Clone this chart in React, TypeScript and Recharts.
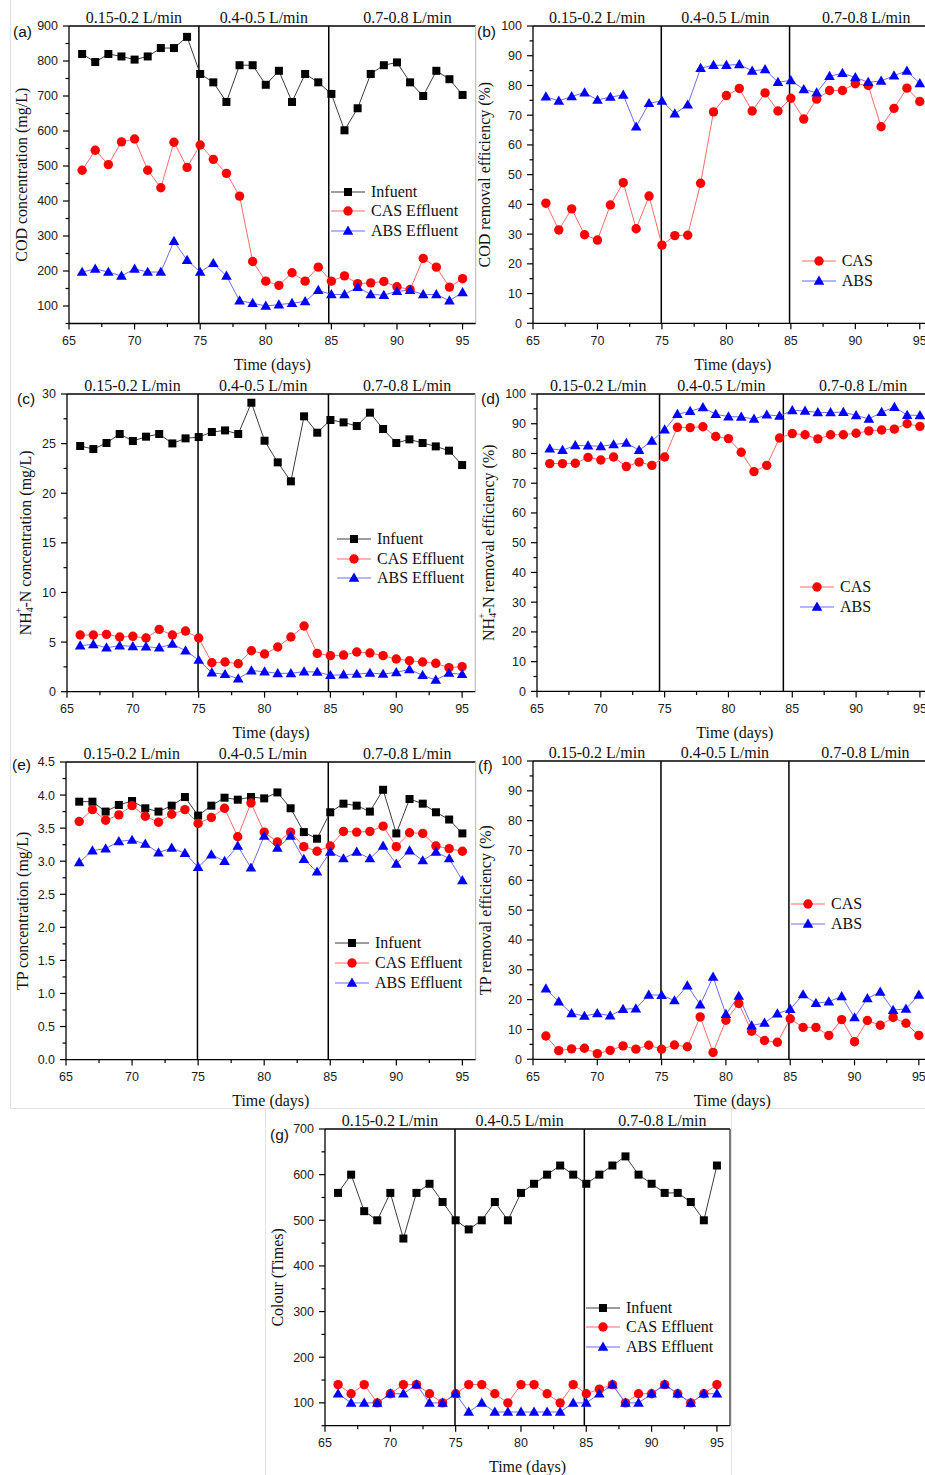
import React from 'react';
import { LineChart, Line, XAxis, YAxis, ReferenceLine, ReferenceArea, Legend } from 'recharts';

// days of operation
const days = [66, 67, 68, 69, 70, 71, 72, 73, 74, 75, 76, 77, 78, 79, 80, 81, 82, 83, 84, 85, 86, 87, 88, 89, 90, 91, 92, 93, 94, 95];

const phaseLabels = ['0.15-0.2 L/min', '0.4-0.5 L/min', '0.7-0.8 L/min'];
const xMajorTicks = [65, 70, 75, 80, 85, 90, 95];

// (a) COD concentration (mg/L)
const codInfluent = [820, 797, 820, 813, 804, 813, 837, 837, 869, 763, 739, 683, 788, 788, 732, 772, 683, 763, 739, 706, 602, 665, 763, 788, 796, 739, 700, 772, 748, 703];
const codCAS = [488, 545, 504, 569, 577, 488, 438, 568, 496, 560, 519, 479, 414, 227, 171, 159, 195, 171, 211, 171, 186, 164, 166, 170, 155, 147, 236, 211, 154, 178];
const codABS = [197, 206, 197, 186, 206, 197, 197, 285, 231, 197, 222, 186, 115, 108, 100, 104, 108, 113, 145, 133, 133, 154, 133, 131, 142, 145, 133, 133, 115, 139];
const codYTicks = [100, 200, 300, 400, 500, 600, 700, 800, 900];

// (b) COD removal efficiency (%)
const codRemCAS = [40.4, 31.4, 38.5, 29.8, 28.0, 39.8, 47.3, 31.8, 42.8, 26.3, 29.5, 29.6, 47.1, 71.1, 76.6, 79.0, 71.4, 77.5, 71.4, 75.7, 68.7, 75.4, 78.3, 78.3, 80.6, 80.0, 66.1, 72.3, 79.1, 74.6];
const codRemABS = [76.2, 74.8, 76.3, 77.6, 75.1, 76.1, 76.8, 66.1, 74.0, 74.8, 70.5, 73.5, 85.8, 86.8, 86.8, 87.1, 84.9, 85.4, 81.1, 81.7, 78.7, 77.6, 83.1, 84.1, 82.7, 81.1, 81.5, 83.3, 84.9, 80.7];
const pctYTicks = [0, 10, 20, 30, 40, 50, 60, 70, 80, 90, 100];

// (c) NH4+-N concentration (mg/L)
const nh4Influent = [24.76, 24.45, 25.06, 25.97, 25.26, 25.7, 25.97, 25.02, 25.53, 25.66, 26.17, 26.33, 25.97, 29.12, 25.29, 23.11, 21.2, 27.75, 26.1, 27.38, 27.14, 26.77, 28.12, 26.47, 25.06, 25.43, 25.06, 24.72, 24.29, 22.84];
const nh4CAS = [5.71, 5.71, 5.78, 5.51, 5.58, 5.41, 6.28, 5.71, 6.11, 5.41, 2.92, 2.99, 2.82, 4.13, 3.8, 4.5, 5.51, 6.62, 3.86, 3.63, 3.69, 4.0, 3.9, 3.63, 3.29, 3.12, 2.99, 2.86, 2.42, 2.52];
const nh4ABS = [4.64, 4.77, 4.43, 4.64, 4.57, 4.53, 4.43, 4.8, 4.13, 3.19, 1.91, 1.75, 1.31, 2.12, 2.02, 1.85, 1.85, 2.02, 1.98, 1.65, 1.71, 1.78, 1.88, 1.78, 1.95, 2.25, 1.65, 1.18, 1.88, 1.75];
const nh4YTicks = [0, 5, 10, 15, 20, 25, 30];

// (d) NH4+-N removal efficiency (%)
const nh4RemCAS = [76.6, 76.6, 76.7, 78.7, 77.8, 78.8, 75.6, 77.1, 76.0, 78.8, 88.8, 88.7, 89.0, 85.7, 85.0, 80.4, 73.9, 76.0, 85.2, 86.7, 86.3, 84.9, 86.3, 86.3, 86.8, 87.6, 87.9, 88.2, 90.0, 89.1];
const nh4RemABS = [81.6, 81.1, 82.7, 82.6, 82.4, 83.0, 83.5, 81.1, 84.2, 88.0, 93.2, 94.2, 95.5, 93.2, 92.4, 92.3, 91.6, 93.0, 92.6, 94.5, 94.3, 93.8, 93.8, 93.9, 92.8, 91.6, 93.9, 95.6, 92.9, 92.8];

// (e) TP concentration (mg/L)
const tpInfluent = [3.9, 3.9, 3.75, 3.85, 3.91, 3.8, 3.75, 3.84, 3.97, 3.69, 3.84, 3.96, 3.93, 3.97, 3.95, 4.04, 3.8, 3.44, 3.34, 3.74, 3.87, 3.84, 3.75, 4.08, 3.42, 3.94, 3.87, 3.74, 3.63, 3.42];
const tpCAS = [3.6, 3.78, 3.62, 3.7, 3.84, 3.68, 3.59, 3.71, 3.78, 3.57, 3.66, 3.8, 3.37, 3.88, 3.44, 3.29, 3.44, 3.22, 3.15, 3.23, 3.45, 3.44, 3.45, 3.53, 3.22, 3.43, 3.42, 3.23, 3.19, 3.15];
const tpABS = [2.98, 3.16, 3.19, 3.3, 3.32, 3.26, 3.13, 3.2, 3.12, 2.91, 3.1, 3.0, 3.23, 2.9, 3.38, 3.2, 3.38, 3.03, 2.84, 3.14, 3.04, 3.14, 3.04, 3.23, 2.96, 3.16, 3.01, 3.14, 3.04, 2.71];
const tpYTicks = [0, 0.5, 1, 1.5, 2, 2.5, 3, 3.5, 4, 4.5];

// (f) TP removal efficiency (%)
const tpRemCAS = [7.8, 2.9, 3.5, 3.7, 1.9, 3.0, 4.5, 3.4, 4.7, 3.4, 4.8, 4.2, 14.2, 2.3, 13.1, 18.7, 9.4, 6.3, 5.7, 13.6, 10.7, 10.7, 8.0, 13.3, 5.9, 13.0, 11.4, 14.0, 12.1, 8.0];
const tpRemABS = [23.7, 19.3, 15.4, 14.5, 15.4, 14.6, 16.8, 17.0, 21.6, 21.5, 19.7, 24.7, 18.3, 27.6, 15.1, 21.2, 11.3, 12.2, 15.3, 16.8, 21.7, 18.8, 19.3, 21.1, 14.0, 20.4, 22.6, 16.5, 16.9, 21.6];

// (g) Colour (times)
const colourInfluent = [560, 600, 520, 500, 560, 460, 560, 580, 540, 500, 480, 500, 540, 500, 560, 580, 600, 620, 600, 580, 600, 620, 640, 600, 580, 560, 560, 540, 500, 620];
const colourCAS = [140, 120, 140, 100, 120, 140, 140, 120, 100, 120, 140, 140, 120, 100, 140, 140, 120, 100, 140, 120, 130, 140, 100, 120, 120, 140, 120, 100, 120, 140];
const colourABS = [120, 100, 100, 100, 120, 120, 140, 100, 100, 120, 80, 100, 80, 80, 80, 80, 80, 80, 100, 100, 120, 140, 100, 100, 120, 140, 120, 100, 120, 120];
const colourYTicks = [100, 200, 300, 400, 500, 600, 700];

const SERIF = '"Liberation Serif", "Times New Roman", serif';
const SANS = '"Liberation Sans", Arial, sans-serif';

type Shape = 'square' | 'circle' | 'triangle';
type Series = { name: string; values: number[]; color: string; line: string; shape: Shape };

const BLACK = { color: '#000000', line: '#3c3c3c', shape: 'square' as Shape };
const RED = { color: '#ff0000', line: '#ff6b6b', shape: 'circle' as Shape };
const BLUE = { color: '#0000ff', line: '#6b6bff', shape: 'triangle' as Shape };

const Marker = ({ shape, cx, cy, color }: { shape: Shape; cx: number; cy: number; color: string }) => {
  if (shape === 'square') return <rect x={cx - 4} y={cy - 4} width={8} height={8} fill={color} />;
  if (shape === 'circle') return <circle cx={cx} cy={cy} r={4.7} fill={color} />;
  return <polygon points={`${cx},${cy - 5.4} ${cx + 5.3},${cy + 3.8} ${cx - 5.3},${cy + 3.8}`} fill={color} />;
};

type Panel = {
  tag: string;
  left: number; top: number; right: number; bottom: number;
  yDomain: [number, number];
  yTicks: number[];
  decimals: number;
  yTitle: React.ReactNode;
  titleOffset: number;
  series: Series[];
  legend: { x: number; y: number };
  bounds: [number, number];
  frame: string;
};

const nh4Title = (rest: string) => (
  <>
    <tspan>NH</tspan>
    <tspan fontSize={10} dy={4}>4</tspan>
    <tspan fontSize={10} dx={-6} dy={-11}>+</tspan>
    <tspan dy={7}>{rest}</tspan>
  </>
);

const panels: Panel[] = [
  {
    tag: '(a)', left: 69.3, top: 26, right: 476, bottom: 323.5, yDomain: [50, 900], yTicks: codYTicks, decimals: 0,
    yTitle: 'COD concentration (mg/L)', titleOffset: 47, legend: { x: 331, y: 191.7 }, bounds: [74.9, 84.8], frame: '#c4c4c4',
    series: [
      { name: 'Infuent', values: codInfluent, ...BLACK },
      { name: 'CAS Effluent', values: codCAS, ...RED },
      { name: 'ABS Effluent', values: codABS, ...BLUE },
    ],
  },
  {
    tag: '(b)', left: 533.3, top: 26, right: 933, bottom: 323.3, yDomain: [0, 100], yTicks: pctYTicks, decimals: 0,
    yTitle: 'COD removal efficiency (%)', titleOffset: 48, legend: { x: 801.7, y: 261 }, bounds: [74.95, 84.9], frame: '#000',
    series: [
      { name: 'CAS', values: codRemCAS, ...RED },
      { name: 'ABS', values: codRemABS, ...BLUE },
    ],
  },
  {
    tag: '(c)', left: 66.7, top: 394, right: 475, bottom: 691.7, yDomain: [0, 30], yTicks: nh4YTicks, decimals: 0,
    yTitle: nh4Title('-N concentration (mg/L)'), titleOffset: 42, legend: { x: 337, y: 539 }, bounds: [74.95, 84.85], frame: '#c4c4c4',
    series: [
      { name: 'Infuent', values: nh4Influent, ...BLACK },
      { name: 'CAS Effluent', values: nh4CAS, ...RED },
      { name: 'ABS Effluent', values: nh4ABS, ...BLUE },
    ],
  },
  {
    tag: '(d)', left: 537.3, top: 394.3, right: 933, bottom: 691.7, yDomain: [0, 100], yTicks: pctYTicks, decimals: 0,
    yTitle: nh4Title('-N removal efficiency (%)'), titleOffset: 49, legend: { x: 800, y: 587 }, bounds: [74.6, 84.3], frame: '#000',
    series: [
      { name: 'CAS', values: nh4RemCAS, ...RED },
      { name: 'ABS', values: nh4RemABS, ...BLUE },
    ],
  },
  {
    tag: '(e)', left: 66, top: 761.7, right: 475.6, bottom: 1059.3, yDomain: [0, 4.5], yTicks: tpYTicks, decimals: 1,
    yTitle: 'TP concentration (mg/L)', titleOffset: 44, legend: { x: 335, y: 943.3 }, bounds: [74.95, 84.85], frame: '#c4c4c4',
    series: [
      { name: 'Infuent', values: tpInfluent, ...BLACK },
      { name: 'CAS Effluent', values: tpCAS, ...RED },
      { name: 'ABS Effluent', values: tpABS, ...BLUE },
    ],
  },
  {
    tag: '(f)', left: 533.3, top: 761, right: 932, bottom: 1059.3, yDomain: [0, 100], yTicks: pctYTicks, decimals: 0,
    yTitle: 'TP removal efficiency (%)', titleOffset: 47, legend: { x: 791, y: 904.3 }, bounds: [74.95, 84.9], frame: '#000',
    series: [
      { name: 'CAS', values: tpRemCAS, ...RED },
      { name: 'ABS', values: tpRemABS, ...BLUE },
    ],
  },
  {
    tag: '(g)', left: 325, top: 1129, right: 730, bottom: 1425.7, yDomain: [50, 700], yTicks: colourYTicks, decimals: 0,
    yTitle: 'Colour (Times)', titleOffset: 48, legend: { x: 586, y: 1307.7 }, bounds: [74.95, 84.85], frame: '#333',
    series: [
      { name: 'Infuent', values: colourInfluent, ...BLACK },
      { name: 'CAS Effluent', values: colourCAS, ...RED },
      { name: 'ABS Effluent', values: colourABS, ...BLUE },
    ],
  },
];

// chart box around each plot area
const ML = 66;
const MT = 30;
const MB = 55;
const MR = 2;
const X_MAX = 96;

const withMinors = (majors: number[], lo: number, hi: number) => {
  const out: number[] = [];
  majors.forEach((m, i) => {
    out.push(m);
    if (i < majors.length - 1) out.push((m + majors[i + 1]) / 2);
  });
  const step = majors[1] - majors[0];
  if (majors[0] - step / 2 >= lo) out.unshift(majors[0] - step / 2);
  if (majors[majors.length - 1] + step / 2 <= hi) out.push(majors[majors.length - 1] + step / 2);
  return out;
};

const tickText = { fontFamily: SANS, fontSize: 12.5, fill: '#1a1a1a' };

const XTick = (props: any) => {
  const { x, y, payload } = props;
  const major = xMajorTicks.includes(payload.value);
  return (
    <g>
      <line x1={x} x2={x} y1={y} y2={y + (major ? 6 : 3.5)} stroke="#000" strokeWidth={1.2} />
      {major && (
        <text x={x} y={y + 21.5} textAnchor="middle" {...tickText}>
          {payload.value}
        </text>
      )}
    </g>
  );
};

const makeYTick = (majors: number[], decimals: number) => (props: any) => {
  const { x, y, payload } = props;
  const major = majors.includes(payload.value);
  return (
    <g>
      <line x1={x} x2={x - (major ? 6 : 3.5)} y1={y} y2={y} stroke="#000" strokeWidth={1.2} />
      {major && (
        <text x={x - 11} y={y + 4.5} textAnchor="end" {...tickText}>
          {payload.value.toFixed(decimals)}
        </text>
      )}
    </g>
  );
};

const LegendBox = ({ series }: { series: Series[] }) => (
  <div style={{ fontFamily: SERIF, fontSize: 16, color: '#111' }}>
    {series.map((s) => (
      <div key={s.name} style={{ display: 'flex', alignItems: 'center', height: 19.7, whiteSpace: 'nowrap' }}>
        <svg width={34} height={14} style={{ flex: 'none' }}>
          <line x1={0} x2={34} y1={7} y2={7} stroke={s.line} strokeWidth={1} />
          <Marker shape={s.shape} cx={17} cy={7} color={s.color} />
        </svg>
        <span style={{ marginLeft: 6 }}>{s.name}</span>
      </div>
    ))}
  </div>
);

const PanelChart = ({ p }: { p: Panel }) => {
  const plotW = p.right - p.left;
  const plotH = p.bottom - p.top;
  const width = plotW + ML + MR;
  const height = plotH + MT + MB;
  const chartLeft = p.left - ML;
  const chartTop = p.top - MT;
  const data = days.map((d, i) => {
    const row: Record<string, number> = { day: d };
    p.series.forEach((s, k) => {
      row[`s${k}`] = s.values[i];
    });
    return row;
  });
  const xTicks = withMinors(xMajorTicks, 65, X_MAX);
  const yTicks = withMinors(p.yTicks, p.yDomain[0], p.yDomain[1]);
  const phases: [number, number][] = [
    [65, p.bounds[0]],
    [p.bounds[0], p.bounds[1]],
    [p.bounds[1], 96.8],
  ];
  return (
    <div style={{ position: 'absolute', left: chartLeft, top: chartTop }}>
      <LineChart width={width} height={height} data={data} margin={{ top: MT, right: MR, bottom: 0, left: 0 }}>
        <XAxis
          dataKey="day"
          type="number"
          domain={[65, X_MAX]}
          ticks={xTicks}
          interval={0}
          height={MB}
          tickSize={0}
          tickMargin={0}
          tickLine={false}
          tick={<XTick />}
          axisLine={{ stroke: '#000', strokeWidth: 1.3 }}
          label={() => (
            <text x={ML + plotW / 2} y={MT + plotH + 41} textAnchor="middle" dominantBaseline="central" fontFamily={SERIF} fontSize={16} fill="#111">
              Time (days)
            </text>
          )}
        />
        <YAxis
          type="number"
          domain={p.yDomain}
          ticks={yTicks}
          interval={0}
          width={ML}
          tickSize={0}
          tickMargin={0}
          tickLine={false}
          tick={makeYTick(p.yTicks, p.decimals)}
          axisLine={{ stroke: '#000', strokeWidth: 1.3 }}
          label={() => {
            const cx = ML - p.titleOffset;
            const cy = MT + plotH / 2;
            return (
              <text x={cx} y={cy} transform={`rotate(-90 ${cx} ${cy})`} textAnchor="middle" dominantBaseline="central" fontFamily={SERIF} fontSize={16} fill="#111">
                {p.yTitle}
              </text>
            );
          }}
        />
        {phases.map(([a, b], i) => (
          <ReferenceArea
            key={`ph${i}`}
            x1={a}
            x2={b}
            ifOverflow="visible"
            fill="none"
            fillOpacity={0}
            stroke="none"
            label={{ value: phaseLabels[i], position: 'top', offset: 3, fontFamily: SERIF, fontSize: 16, fill: '#111' }}
          />
        ))}
        <ReferenceLine y={p.yDomain[1]} stroke="#000" strokeWidth={1.3} />
        <ReferenceLine x={X_MAX} stroke={p.frame} strokeWidth={1.3} />
        {p.bounds.map((b) => (
          <ReferenceLine key={`b${b}`} x={b} stroke="#000" strokeWidth={1.5} />
        ))}
        {p.series.map((s, k) => (
          <Line
            key={s.name}
            dataKey={`s${k}`}
            name={s.name}
            type="linear"
            stroke={s.line}
            strokeWidth={1}
            isAnimationActive={false}
            activeDot={false}
            dot={(d: any) => <Marker key={`${s.name}-${d.index}`} shape={s.shape} cx={d.cx} cy={d.cy} color={s.color} />}
          />
        ))}
        <Legend
          layout="vertical"
          align="center"
          verticalAlign="middle"
          wrapperStyle={{ left: p.legend.x - chartLeft, top: p.legend.y - chartTop - 9.85, width: 170 }}
          content={() => <LegendBox series={p.series} />}
        />
      </LineChart>
    </div>
  );
};

const tagPos: Record<string, { x: number; y: number }> = {
  '(a)': { x: 13, y: 31.7 },
  '(b)': { x: 477, y: 32 },
  '(c)': { x: 17, y: 399 },
  '(d)': { x: 481, y: 399 },
  '(e)': { x: 12, y: 765 },
  '(f)': { x: 478, y: 766 },
  '(g)': { x: 270, y: 1135 },
};

export default function App() {
  return (
    <div style={{ position: 'absolute', left: 0, top: 0, width: 925, height: 1475, overflow: 'hidden', background: '#fff' }}>
      <div style={{ position: 'absolute', left: 10, top: 0, width: 1, height: 1108, background: '#e2e2e2' }} />
      <div style={{ position: 'absolute', left: 10, top: 1108, width: 915, height: 1, background: '#e2e2e2' }} />
      <div style={{ position: 'absolute', left: 265, top: 1108, width: 1, height: 367, background: '#e2e2e2' }} />
      <div style={{ position: 'absolute', left: 731, top: 1108, width: 1, height: 367, background: '#e2e2e2' }} />
      {panels.map((p) => (
        <PanelChart key={p.tag} p={p} />
      ))}
      {panels.map((p) => (
        <div
          key={`t${p.tag}`}
          style={{ position: 'absolute', left: tagPos[p.tag].x, top: tagPos[p.tag].y - 9, lineHeight: '18px', fontFamily: SANS, fontSize: 15.5, color: '#111' }}
        >
          {p.tag}
        </div>
      ))}
    </div>
  );
}
